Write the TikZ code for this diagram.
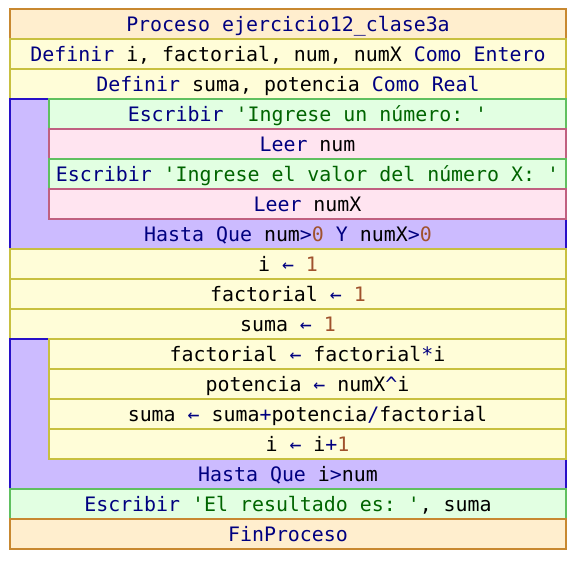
\documentclass[tikz,border=0pt]{standalone}
\usepackage{fontspec}
\setmonofont{DejaVu Sans Mono}
\definecolor{procfill}{RGB}{255,238,206}
\definecolor{procline}{RGB}{200,136,48}
\definecolor{deffill}{RGB}{255,253,216}
\definecolor{defline}{RGB}{200,192,64}
\definecolor{loopfill}{RGB}{204,187,255}
\definecolor{loopline}{RGB}{40,16,200}
\definecolor{wrfill}{RGB}{226,255,226}
\definecolor{wrline}{RGB}{96,192,96}
\definecolor{rdfill}{RGB}{255,228,240}
\definecolor{rdline}{RGB}{192,96,128}
\definecolor{kwcol}{RGB}{0,0,128}
\definecolor{strcol}{RGB}{0,100,0}
\definecolor{numcol}{RGB}{160,82,45}
\newcommand{\kwd}[1]{\textcolor{kwcol}{#1}}
\newcommand{\strg}[1]{\textcolor{strcol}{#1}}
\newcommand{\numb}[1]{\textcolor{numcol}{#1}}
\begin{document}
\begin{tikzpicture}[x=1pt,y=1pt,
  box/.style={rectangle, draw, line width=2pt, minimum height=30pt, inner sep=0pt, outer sep=0pt,
    anchor=north west, text height=15pt, text depth=0pt,
    font=\ttfamily\fontsize{19.9}{24}\selectfont},
  full/.style={box, minimum width=556pt},
  inner/.style={box, minimum width=517pt},
  procbox/.style={full, fill=procfill, draw=procline},
  defbox/.style={full, fill=deffill, draw=defline},
  indefbox/.style={inner, fill=deffill, draw=defline},
  wrbox/.style={inner, fill=wrfill, draw=wrline},
  fullwrbox/.style={full, fill=wrfill, draw=wrline},
  rdbox/.style={inner, fill=rdfill, draw=rdline},
  loopbox/.style={rectangle, draw=loopline, fill=loopfill, line width=2pt, inner sep=0pt, outer sep=0pt,
    anchor=north west, minimum width=556pt},
  looptext/.style={anchor=center, inner sep=0pt, text height=15pt, text depth=0pt,
    font=\ttfamily\fontsize{19.9}{24}\selectfont}
]
\useasboundingbox (0,0) rectangle (576,560);
\node[procbox] (r0) at (10,551) {\kwd{Proceso ejercicio12\_clase3a}};
\node[defbox] (r1) at (10,521) {\kwd{Definir} i, factorial, num, numX \kwd{Como Entero}};
\node[defbox] (r2) at (10,491) {\kwd{Definir} suma, potencia \kwd{Como Real}};
\node[loopbox, minimum height=150pt] (loopA) at (10,461) {};
\node[wrbox] (r3) at (49,461) {\kwd{Escribir} \strg{'Ingrese un número: '}};
\node[rdbox] (r4) at (49,431) {\kwd{Leer} num};
\node[wrbox] (r5) at (49,401) {\kwd{Escribir} \strg{'Ingrese el valor del número X: '}};
\node[rdbox] (r6) at (49,371) {\kwd{Leer} numX};
\node[looptext] (h1) at (288,326) {\kwd{Hasta Que} num\kwd{>}\numb{0} \kwd{Y} numX\kwd{>}\numb{0}};
\node[defbox] (r8) at (10,311) {i \kwd{←} \numb{1}};
\node[defbox] (r9) at (10,281) {factorial \kwd{←} \numb{1}};
\node[defbox] (r10) at (10,251) {suma \kwd{←} \numb{1}};
\node[loopbox, minimum height=150pt] (loopB) at (10,221) {};
\node[indefbox] (r11) at (49,221) {factorial \kwd{←} factorial\kwd{*}i};
\node[indefbox] (r12) at (49,191) {potencia \kwd{←} numX\kwd{\textasciicircum}i};
\node[indefbox] (r13) at (49,161) {suma \kwd{←} suma\kwd{+}potencia\kwd{/}factorial};
\node[indefbox] (r14) at (49,131) {i \kwd{←} i\kwd{+}\numb{1}};
\node[looptext] (h2) at (288,86) {\kwd{Hasta Que} i\kwd{>}num};
\node[fullwrbox] (r16) at (10,71) {\kwd{Escribir} \strg{'El resultado es: '}, suma};
\node[procbox] (r17) at (10,41) {\kwd{FinProceso}};
\end{tikzpicture}
\end{document}
